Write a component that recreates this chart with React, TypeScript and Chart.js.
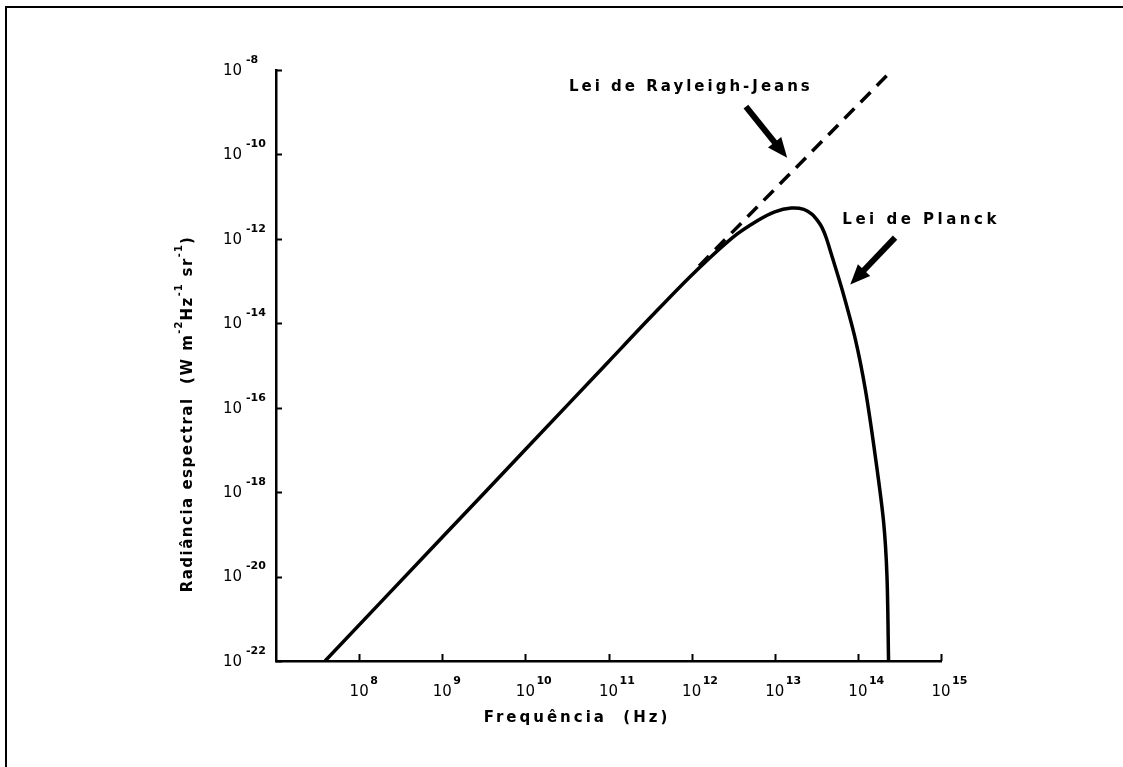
import React, { useEffect, useRef } from 'react';
import { Chart, registerables } from 'chart.js';

Chart.register(...registerables);

// Planck curve (solid)
const planckFreq = [3.89e7, 1e9, 1e10, 1e11, 3.16e11, 1e12, 3.16e12, 6.31e12, 1e13, 1.58e13, 2.24e13, 2.82e13, 3.31e13, 3.72e13, 4.17e13, 4.79e13, 6.46e13, 9.33e13, 1.23e14, 1.62e14, 2.04e14, 2.24e14, 2.34e14];
const planckRad = [1e-22, 8.51e-20, 1.02e-17, 1.23e-15, 1.35e-14, 1.38e-13, 1.1e-12, 2.75e-12, 4.37e-12, 5.37e-12, 5.01e-12, 3.8e-12, 2.63e-12, 1.82e-12, 1.05e-12, 4.37e-13, 6.31e-14, 4.17e-15, 2.69e-16, 7.08e-18, 1.95e-19, 1e-20, 1e-22];

// Rayleigh-Jeans line (dashed)
const rjFreq = [1.23e12, 2.6e14];
const rjRad = [2.29e-13, 1e-8];

// Tick exponents
const xTickExps = [8, 9, 10, 11, 12, 13, 14, 15];
const yTickExps = [-8, -10, -12, -14, -16, -18, -20, -22];

// Annotation anchors in data space [freq, radiance]
const rjLabel = ['Lei de Rayleigh-Jeans', 9.8e11, 4.0e-9];
const rjArrow = [[4.5e12, 1.35e-9], [1.41e13, 8.3e-11]];
const plLabel = ['Lei de Planck', 6.5e13, 2.8e-12];
const plArrow = [[2.8e14, 1.07e-12], [8.1e13, 8.3e-14]];

const FONT = '"DejaVu Sans", sans-serif';

function drawArrow(ctx: CanvasRenderingContext2D, x0: number, y0: number, x1: number, y1: number) {
  const dx = x1 - x0, dy = y1 - y0;
  const len = Math.hypot(dx, dy);
  const ux = dx / len, uy = dy / len;
  const nx = -uy, ny = ux;
  const hl = 20, hw = 17;
  const bx = x1 - ux * hl, by = y1 - uy * hl;
  ctx.lineWidth = 6;
  ctx.lineCap = 'butt';
  ctx.beginPath();
  ctx.moveTo(x0, y0);
  ctx.lineTo(bx + ux * 2, by + uy * 2);
  ctx.stroke();
  ctx.beginPath();
  ctx.moveTo(x1, y1);
  ctx.lineTo(bx + nx * hw / 2, by + ny * hw / 2);
  ctx.lineTo(bx - nx * hw / 2, by - ny * hw / 2);
  ctx.closePath();
  ctx.fill();
}

const decorPlugin = {
  id: 'decor',
  afterDraw(chart: any) {
    const ctx: CanvasRenderingContext2D = chart.ctx;
    const xs = chart.scales.x;
    const ys = chart.scales.y;
    const { left, bottom } = chart.chartArea;
    ctx.save();
    ctx.strokeStyle = '#000';
    ctx.fillStyle = '#000';

    // outer frame (top and left)
    ctx.lineWidth = 2;
    ctx.beginPath();
    ctx.moveTo(6, 767);
    ctx.lineTo(6, 7);
    ctx.lineTo(1123, 7);
    ctx.stroke();

    // inward ticks
    ctx.lineWidth = 2;
    xTickExps.forEach((e) => {
      const px = Math.round(xs.getPixelForValue(Math.pow(10, e))) + 0.5;
      ctx.beginPath();
      ctx.moveTo(px, bottom);
      ctx.lineTo(px, bottom - 7);
      ctx.stroke();
    });
    yTickExps.forEach((e) => {
      const py = Math.round(ys.getPixelForValue(Math.pow(10, e))) + 0.5;
      ctx.beginPath();
      ctx.moveTo(left, py);
      ctx.lineTo(left + 6, py);
      ctx.stroke();
    });

    // tick labels
    ctx.textBaseline = 'middle';
    (ctx as any).letterSpacing = '0px';
    yTickExps.forEach((e) => {
      const py = ys.getPixelForValue(Math.pow(10, e));
      ctx.font = `15px ${FONT}`;
      ctx.textAlign = 'right';
      ctx.fillText('10', left - 34, py + 1);
      ctx.font = `bold 11px ${FONT}`;
      ctx.textAlign = 'left';
      ctx.fillText(String(e), left - 30, py - 10);
    });
    xTickExps.forEach((e) => {
      const px = xs.getPixelForValue(Math.pow(10, e));
      ctx.font = `15px ${FONT}`;
      ctx.textAlign = 'center';
      ctx.fillText('10', px, bottom + 31);
      ctx.font = `bold 11px ${FONT}`;
      ctx.textAlign = 'left';
      ctx.fillText(String(e), px + 11, bottom + 20);
    });

    // axis titles
    (ctx as any).letterSpacing = '3px';
    ctx.font = `bold 15px ${FONT}`;
    ctx.textAlign = 'center';
    ctx.fillText('Frequência  (Hz)', 577, 718);

    // y title (rotated, with superscripts)
    ctx.save();
    ctx.translate(188, 414);
    ctx.rotate(-Math.PI / 2);
    const parts: [string, boolean][] = [
      ['Radiância espectral  (W m', false],
      ['-2', true],
      ['Hz', false],
      ['-1', true],
      [' sr', false],
      ['-1', true],
      [')', false],
    ];
    const fNorm = `bold 15px ${FONT}`;
    const fSup = `bold 10px ${FONT}`;
    let total = 0;
    parts.forEach(([t, sup]) => {
      ctx.font = sup ? fSup : fNorm;
      (ctx as any).letterSpacing = sup ? '1px' : '1.5px';
      total += ctx.measureText(t).width;
    });
    let cx = -total / 2;
    ctx.textAlign = 'left';
    parts.forEach(([t, sup]) => {
      ctx.font = sup ? fSup : fNorm;
      (ctx as any).letterSpacing = sup ? '1px' : '1.5px';
      ctx.fillText(t, cx, sup ? -9 : 0);
      cx += ctx.measureText(t).width;
    });
    ctx.restore();

    // annotations
    (ctx as any).letterSpacing = '3px';
    ctx.font = `bold 15px ${FONT}`;
    ctx.textAlign = 'center';
    ctx.fillText(rjLabel[0] as string, xs.getPixelForValue(rjLabel[1]), ys.getPixelForValue(rjLabel[2]));
    (ctx as any).letterSpacing = '3.5px';
    ctx.textAlign = 'left';
    ctx.fillText(plLabel[0] as string, xs.getPixelForValue(plLabel[1]), ys.getPixelForValue(plLabel[2]));

    [rjArrow, plArrow].forEach((a: any) => {
      drawArrow(
        ctx,
        xs.getPixelForValue(a[0][0]), ys.getPixelForValue(a[0][1]),
        xs.getPixelForValue(a[1][0]), ys.getPixelForValue(a[1][1])
      );
    });

    ctx.restore();
  },
};

export default function App() {
  const ref = useRef<HTMLCanvasElement>(null);
  useEffect(() => {
    const canvas = ref.current;
    if (!canvas) return;
    const chart = new Chart(canvas, {
      type: 'scatter',
      data: {
        datasets: [
          {
            label: 'Lei de Planck',
            data: planckFreq.map((f, i) => ({ x: f, y: planckRad[i] })),
            showLine: true,
            borderColor: '#000',
            borderWidth: 3.5,
            pointRadius: 0,
            tension: 0.3,
            fill: false,
          },
          {
            label: 'Lei de Rayleigh-Jeans',
            data: rjFreq.map((f, i) => ({ x: f, y: rjRad[i] })),
            showLine: true,
            borderColor: '#000',
            borderWidth: 3.5,
            borderDash: [14, 9],
            pointRadius: 0,
            fill: false,
            clip: false,
          },
        ],
      },
      options: {
        responsive: false,
        animation: false,
        events: [],
        layout: { padding: { left: 276, top: 70, right: 182, bottom: 106 } },
        plugins: { legend: { display: false }, tooltip: { enabled: false } },
        scales: {
          x: {
            type: 'logarithmic',
            min: 1e7,
            max: 1e15,
            grid: { display: false, drawTicks: false },
            ticks: { display: false },
            border: { display: true, color: '#000', width: 2.5 },
          },
          y: {
            type: 'logarithmic',
            min: 1e-22,
            max: 1e-8,
            grid: { display: false, drawTicks: false },
            ticks: { display: false },
            border: { display: true, color: '#000', width: 2.5 },
          },
        },
      },
      plugins: [decorPlugin],
    });
    return () => chart.destroy();
  }, []);
  return (
    <div style={{ position: 'absolute', left: 0, top: 0, width: 1123, height: 767, background: '#fff' }}>
      <canvas ref={ref} width={1123} height={767} style={{ display: 'block' }} />
    </div>
  );
}
